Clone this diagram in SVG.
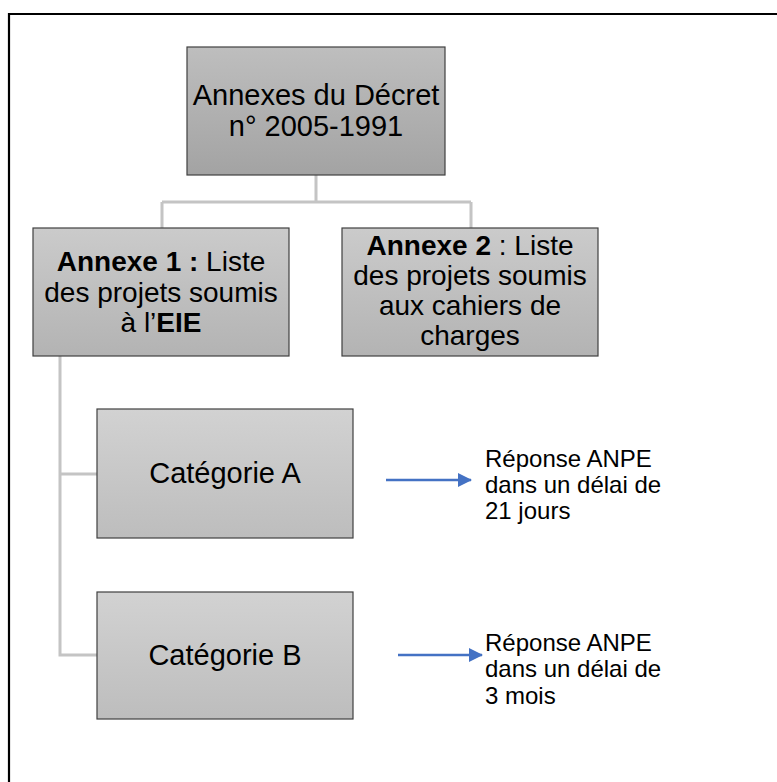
<svg xmlns="http://www.w3.org/2000/svg" width="777" height="782" viewBox="0 0 777 782">
<style>
text{font-family:"Liberation Sans",Arial,sans-serif;fill:#000}
.box{stroke:#404040;stroke-width:1.2}
.t29{font-size:29px;text-anchor:middle}
.t28{font-size:28px;text-anchor:middle}
.note{font-size:24px}
.b{font-weight:bold}
.conn{stroke:#c4c4c4;stroke-width:3;fill:none}
.arr{stroke:#4472c4;stroke-width:2.5;fill:none}
</style>
<defs>
<linearGradient id="g1" x1="0" y1="0" x2="0" y2="1"><stop offset="0" stop-color="#bebebe"/><stop offset="1" stop-color="#a3a3a3"/></linearGradient>
<linearGradient id="g2" x1="0" y1="0" x2="0" y2="1"><stop offset="0" stop-color="#cbcbcb"/><stop offset="1" stop-color="#b3b3b3"/></linearGradient>
<linearGradient id="g3" x1="0" y1="0" x2="0" y2="1"><stop offset="0" stop-color="#d2d2d2"/><stop offset="1" stop-color="#bdbdbd"/></linearGradient>
<marker id="ah" markerWidth="14" markerHeight="14" refX="13" refY="7" orient="auto" markerUnits="userSpaceOnUse"><path d="M0,0 L14,7 L0,14 Z" fill="#4472c4"/></marker>
</defs>
<rect width="777" height="782" fill="#fff"/>
<path d="M9,782 V14 H777" fill="none" stroke="#000" stroke-width="2.2"/>
<g id="connectors">
<path class="conn" d="M316,175 V202 M162,202 H471 M162,202 V228 M471,202 V228"/>
<path class="conn" d="M60,356 V655 H97 M60,474 H97"/>
<path class="arr" d="M386,480 H471" marker-end="url(#ah)"/>
<path class="arr" d="M398,655 H482" marker-end="url(#ah)"/>
</g>
<g id="root">
<rect class="box" x="187" y="47" width="258" height="128" fill="url(#g1)"/>
<text class="t29" x="316" y="105">Annexes du Décret</text>
<text class="t29" x="316" y="136">n° 2005-1991</text>
</g>
<g id="annexe1">
<rect class="box" x="33" y="228" width="256" height="128" fill="url(#g2)"/>
<text class="t28" x="161" y="271"><tspan class="b">Annexe 1 :</tspan> Liste</text>
<text class="t28" x="161" y="302">des projets soumis</text>
<text class="t28" x="161" y="332">à l’<tspan class="b">EIE</tspan></text>
</g>
<g id="annexe2">
<rect class="box" x="342" y="228" width="256" height="128" fill="url(#g2)"/>
<text class="t28" x="470" y="255"><tspan class="b">Annexe 2</tspan> : Liste</text>
<text class="t28" x="470" y="285">des projets soumis</text>
<text class="t28" x="470" y="315">aux cahiers de</text>
<text class="t28" x="470" y="345">charges</text>
</g>
<g id="catA">
<rect class="box" x="97" y="409" width="256" height="129" fill="url(#g3)"/>
<text class="t29" x="225" y="483">Catégorie A</text>
</g>
<g id="catB">
<rect class="box" x="97" y="592" width="256" height="127" fill="url(#g3)"/>
<text class="t29" x="225" y="665">Catégorie B</text>
</g>
<g id="noteA">
<text class="note" x="485" y="467">Réponse ANPE</text>
<text class="note" x="485" y="493">dans un délai de</text>
<text class="note" x="485" y="519">21 jours</text>
</g>
<g id="noteB">
<text class="note" x="485" y="651">Réponse ANPE</text>
<text class="note" x="485" y="677">dans un délai de</text>
<text class="note" x="485" y="704">3 mois</text>
</g>
</svg>
